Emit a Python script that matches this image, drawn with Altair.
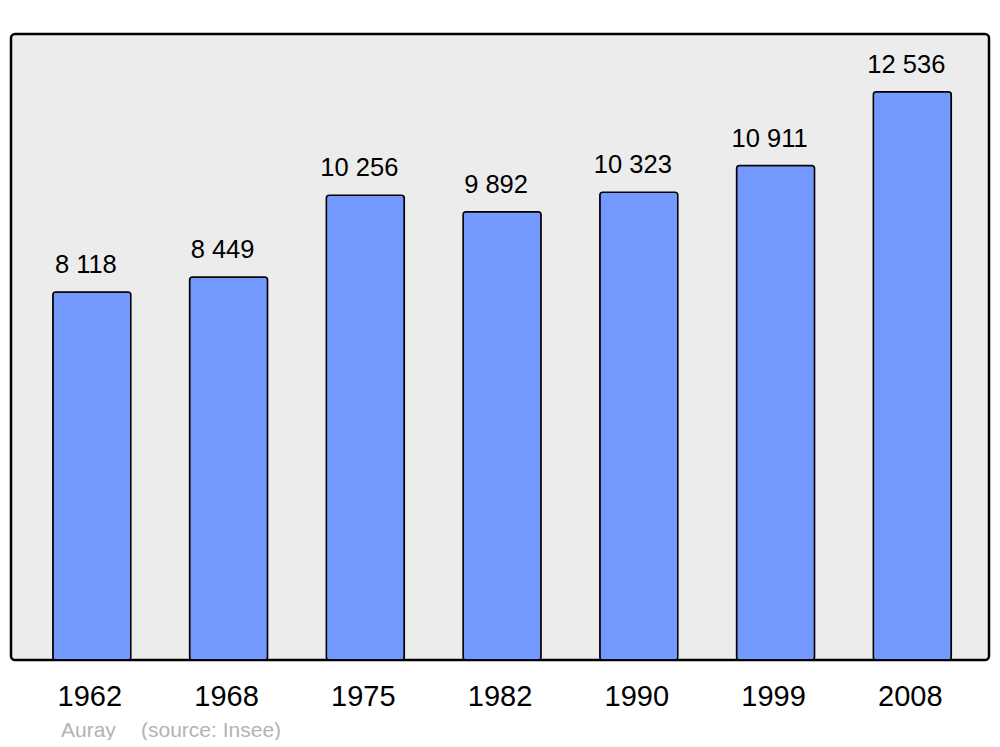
import altair as alt
import pandas as pd

years = ["1962", "1968", "1975", "1982", "1990", "1999", "2008"]
population = [8118, 8449, 10256, 9892, 10323, 10911, 12536]
labels = ["8 118", "8 449", "10 256", "9 892", "10 323", "10 911", "12 536"]

df = pd.DataFrame({"year": years, "pop": population, "label": labels})

FONT = "Liberation Sans"

x = alt.X("year:N", sort=years, title=None,
          scale=alt.Scale(paddingInner=0, paddingOuter=0.0759, align=0.6),
          axis=alt.Axis(domain=False, ticks=False, tickSize=0, labelAngle=0,
                        labelFontSize=29, labelFont=FONT, labelColor="black",
                        labelBaseline="alphabetic", labelPadding=45, labelOffset=-2,
                        grid=False))
y = alt.Y("pop:Q", title=None, scale=alt.Scale(domain=[0, 13813], nice=False),
          axis=None)

bars = alt.Chart(df).mark_bar(size=78, fill="#7399ff", stroke="black",
                              strokeWidth=1.5, cornerRadius=3).encode(x=x, y=y)

text = alt.Chart(df).mark_text(baseline="alphabetic", dy=-19, dx=-6, fontSize=25.5,
                               font=FONT, color="black").encode(
    x=x, y=y, text="label:N")

foot_df = pd.DataFrame({"t": ["Auray", "(source: Insee)"], "px": [50, 130]})
footer = alt.Chart(foot_df).mark_text(align="left", baseline="alphabetic",
                                      fontSize=21, font=FONT, color="#b3b3b3").encode(
    x=alt.X("px:Q", scale=None),
    y=alt.value(703), text="t:N")

chart = alt.layer(bars, text, footer).properties(
    width=978, height=626,
    autosize=alt.AutoSizeParams(type="none"),
    padding={"left": 3, "top": 26, "right": 3, "bottom": 80},
).configure_view(fill="#ececec", stroke="black", strokeWidth=2.5, cornerRadius=4)

chart.save("out.html", embed_options={"renderer": "svg", "actions": False})
